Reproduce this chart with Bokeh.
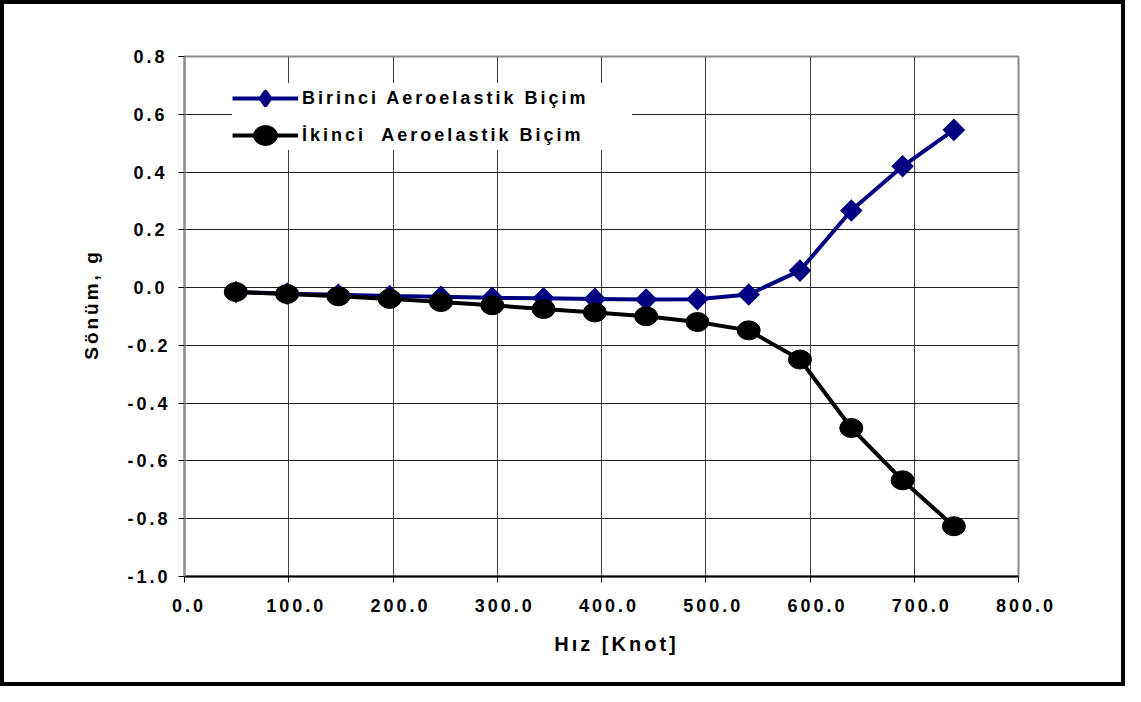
import math
from bokeh.plotting import figure
from bokeh.models import FixedTicker, NumeralTickFormatter, Legend, LegendItem
from bokeh.embed import file_html
from bokeh.resources import INLINE

# ---- data ----
speed_knot = [49.2, 98.4, 147.6, 196.8, 246.0, 295.2, 344.4, 393.6,
              442.8, 492.0, 541.2, 590.4, 639.6, 688.8, 738.0]
birinci = [-0.015, -0.021, -0.025, -0.029, -0.032, -0.035, -0.037, -0.039,
           -0.041, -0.040, -0.024, 0.059, 0.267, 0.420, 0.546]
ikinci = [-0.015, -0.022, -0.030, -0.039, -0.050, -0.061, -0.074, -0.086,
          -0.099, -0.119, -0.148, -0.249, -0.486, -0.667, -0.826]
x_ticks = [0, 100, 200, 300, 400, 500, 600, 700, 800]
y_ticks = [-1.0, -0.8, -0.6, -0.4, -0.2, 0.0, 0.2, 0.4, 0.6, 0.8]

label_birinci = "Birinci Aeroelastik Biçim"
label_ikinci = "İkinci  Aeroelastik Biçim"
x_title = "Hız [Knot]"
y_title = "Sönüm, g"

FONT = "Liberation Sans"

p = figure(width=1125, height=686, x_range=(0, 800), y_range=(-1.0, 0.8),
           output_backend="svg", toolbar_location=None,
           min_border_left=180, min_border_right=111,
           min_border_top=52, min_border_bottom=114,
           background_fill_color="white", border_fill_color="white",
           styles={"border": "4px solid black", "letter-spacing": "3px"})

p.outline_line_color = "#8c8c8c"
p.outline_line_width = 2

# axes
p.xaxis.ticker = FixedTicker(ticks=x_ticks)
p.yaxis.ticker = FixedTicker(ticks=y_ticks)
p.xaxis.formatter = NumeralTickFormatter(format="0.0")
p.yaxis.formatter = NumeralTickFormatter(format="0.0")
for ax in (p.xaxis, p.yaxis):
    ax.major_tick_out = 6
    ax.major_tick_in = 0
    ax.minor_tick_out = 0
    ax.minor_tick_in = 0
    ax.major_tick_line_color = "black"
    ax.major_label_text_font = FONT
    ax.major_label_text_font_style = "bold"
    ax.major_label_text_font_size = "18px"
    ax.major_label_text_color = "black"
    ax.axis_label_text_font = FONT
    ax.axis_label_text_font_style = "bold"
    ax.axis_label_text_font_size = "19px"
    ax.axis_label_text_color = "black"

p.xaxis.axis_label_text_font_size = "20px"
p.xaxis.axis_line_color = "black"
p.xaxis.axis_line_width = 2
p.yaxis.axis_line_color = "#8c8c8c"
p.yaxis.axis_line_width = 2
p.xaxis.major_label_standoff = 16
p.yaxis.major_label_standoff = 20
p.xaxis.axis_label = x_title
p.yaxis.axis_label = y_title
p.xaxis.axis_label_standoff = 18
p.yaxis.axis_label_standoff = 22

# grid
p.xgrid.grid_line_color = "#404040"
p.ygrid.grid_line_color = "#202020"
p.xgrid.grid_line_width = 1
p.ygrid.grid_line_width = 1

# series
bl = p.line(speed_knot, birinci, line_color="#000080", line_width=4)
bm = p.scatter(speed_knot, birinci, marker="square", size=13, angle=math.pi / 4,
               fill_color="#000080", line_color="#000080", line_width=3,
               line_join="miter")
# diamond used only for the legend swatch (legend ignores marker angle)
bm_legend = p.scatter(speed_knot, birinci, marker="diamond", size=13,
                      fill_color="#000080", line_color="#000080", line_width=5,
                      line_join="round", visible=False)
kl = p.line(speed_knot, ikinci, line_color="black", line_width=4)
km = p.ellipse(x=speed_knot, y=ikinci, width=23, height=19,
               width_units="screen", height_units="screen",
               fill_color="black", line_color="black")

legend = Legend(items=[LegendItem(label=label_birinci, renderers=[bl, bm_legend]),
                       LegendItem(label=label_ikinci, renderers=[kl, km])],
                location=(48, 426), padding=15, spacing=7,
                glyph_width=66, glyph_height=30, label_standoff=4,
                label_width=330,
                label_text_font=FONT, label_text_font_style="bold",
                label_text_font_size="18px", label_text_color="black",
                border_line_color=None, background_fill_color="white",
                background_fill_alpha=1.0,
                inactive_fill_alpha=0.0)
p.add_layout(legend)

open("out.html", "w").write(file_html(p, INLINE))
